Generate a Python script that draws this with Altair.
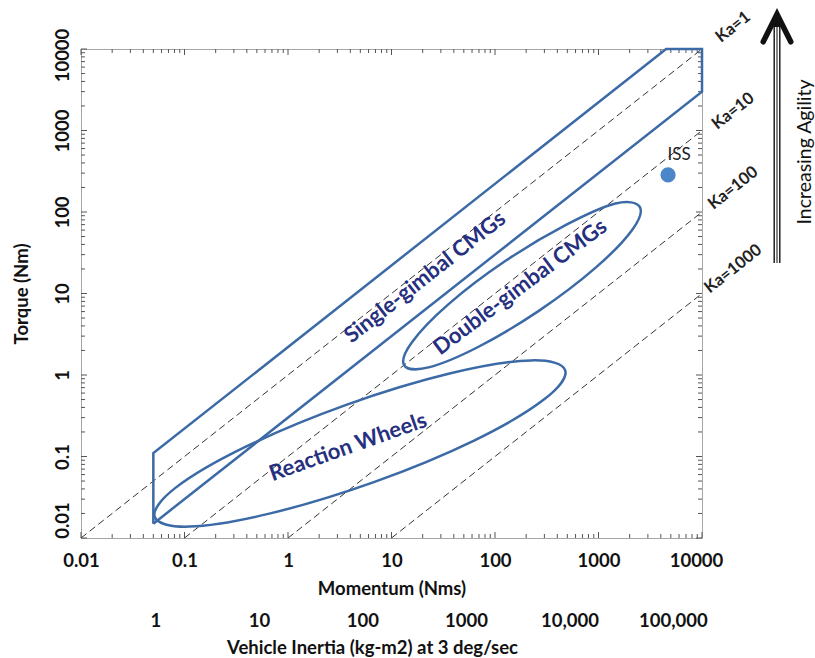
import altair as alt
import pandas as pd

# ---- data -------------------------------------------------------------
# Single-gimbal CMG band (momentum in Nms, torque in Nm), closed polygon
sg_momentum = [0.05, 0.05, 4500, 10000, 10000, 0.05]
sg_torque = [0.015, 0.11, 10000, 10000, 3000, 0.015]

# Double-gimbal CMG region outline
dg_momentum = [2500, 2122, 933, 265, 67.9, 22.8, 13.3, 15.7, 35.6, 125.6, 490, 1459]
dg_torque = [116, 60.7, 20.6, 6.12, 2.19, 1.24, 1.31, 2.51, 7.41, 25.0, 69.8, 127]

# Reaction wheel region outline
rw_momentum = [476, 301, 63.5, 6.75, 0.660, 0.111, 0.0516, 0.0817, 0.387, 3.65, 37.2, 222]
rw_torque = [1.15, 0.506, 0.158, 0.0485, 0.0199, 0.0138, 0.0181, 0.0412, 0.131, 0.430, 1.05, 1.51]

# Agility constant lines (torque = momentum / Ka)
ka_values = [1, 10, 100, 1000]
ka_label_momentum = [20000, 20000, 20000, 20000]
ka_label_torque = [18600, 1730, 197, 20]

# International Space Station
iss_momentum = [4700]
iss_torque = [285]

# Region captions
region_names = ["Single-gimbal CMGs", "Double-gimbal CMGs", "Reaction Wheels"]
region_momentum = [21, 175, 3.8]
region_torque = [15.9, 12.0, 0.131]
region_angle = [321.8, 323.1, 340.5]

# Axis ticks
decades = [0.01, 0.1, 1, 10, 100, 1000, 10000]
minor_steps = [2, 3, 4, 5, 6, 7, 8, 9]
inertia_ticks = [1, 10, 100, 1000, 10000, 100000]
rate_rad_s = 3 * 3.141592653589793 / 180  # 3 deg/sec

# ---- styling ------------------------------------------------------------
W, H = 621, 489
FONT = "Lato"
BLUE = "#3b6aa6"
NAVY = "#26307f"
FRAME = "#a6a6a6"
AXIS_FS = 18.5

xs = alt.Scale(type="log", domain=[0.01, 10000], nice=False)
ys = alt.Scale(type="log", domain=[0.01, 10000], nice=False)

xaxis = alt.Axis(
    values=decades, format="~g", grid=False, ticks=False, domain=False,
    labelFont=FONT, labelFontSize=AXIS_FS, labelFontWeight="bold", labelColor="#111",
    labelPadding=13, labelFlush=False,
    labelOffset={"condition": {"test": "datum.value > 5000", "value": -6}, "value": 0},
    title="Momentum (Nms)", titleFont=FONT, titleFontSize=AXIS_FS, titleFontWeight="bold",
    titleColor="#111", titlePadding=10,
)
yaxis = alt.Axis(
    values=decades, format="~g", grid=False, ticks=False, domain=False,
    labelFont=FONT, labelFontSize=AXIS_FS, labelFontWeight="bold", labelColor="#111",
    labelAngle=270, labelPadding=9, labelFlush=False,
    labelOffset={"condition": [
        {"test": "datum.value < 0.02", "value": -18},
        {"test": "datum.value > 5000", "value": 6},
    ], "value": 0},
    title="Torque (Nm)", titleFont=FONT, titleFontSize=AXIS_FS, titleFontWeight="bold",
    titleColor="#111", titlePadding=22,
)

X = alt.X("H:Q", scale=xs, axis=xaxis)
Y = alt.Y("T:Q", scale=ys, axis=yaxis)

# ---- frame ticks (drawn inside the plot on all four sides) ---------------
minor = [m * d for d in decades[:-1] for m in minor_steps]
tick_layers = []
for vals, ln in ((decades, 6), (minor, 4)):
    xdf = pd.DataFrame({"H": vals})
    ydf = pd.DataFrame({"T": vals})
    rule = dict(color="#555", strokeWidth=1)
    tick_layers += [
        alt.Chart(xdf).mark_rule(**rule).encode(x=X, y=alt.value(H), y2=alt.value(H - ln)),
        alt.Chart(xdf).mark_rule(**rule).encode(x=X, y=alt.value(0), y2=alt.value(ln)),
        alt.Chart(ydf).mark_rule(**rule).encode(y=Y, x=alt.value(0), x2=alt.value(ln)),
        alt.Chart(ydf).mark_rule(**rule).encode(y=Y, x=alt.value(W - ln), x2=alt.value(W)),
    ]

# ---- Ka lines -----------------------------------------------------------
ka_rows = []
for ka in ka_values:
    ka_rows.append({"ka": ka, "H": 0.01 * ka, "T": 0.01})
    ka_rows.append({"ka": ka, "H": 10000, "T": 10000 / ka})
ka_df = pd.DataFrame(ka_rows)
ka_lines = alt.Chart(ka_df).mark_line(
    color="#333", strokeWidth=1, strokeDash=[7, 4]
).encode(x=X, y=Y, detail="ka:N")

ka_lab_df = pd.DataFrame({
    "H": ka_label_momentum, "T": ka_label_torque,
    "label": [f"Ka={k}" for k in ka_values],
})
ka_labels = alt.Chart(ka_lab_df).mark_text(
    font=FONT, fontSize=16.5, fontWeight="bold", color="#222", angle=321.6
).encode(x=X, y=Y, text="label:N")

# ---- regions --------------------------------------------------------------
sg_df = pd.DataFrame({"H": sg_momentum, "T": sg_torque, "order": range(len(sg_momentum))})
sg_band = alt.Chart(sg_df).mark_line(
    color=BLUE, strokeWidth=2.5, strokeJoin="miter"
).encode(x=X, y=Y, order="order:Q")

ell_df = pd.concat([
    pd.DataFrame({"shape": "dg", "H": dg_momentum, "T": dg_torque, "order": range(len(dg_momentum))}),
    pd.DataFrame({"shape": "rw", "H": rw_momentum, "T": rw_torque, "order": range(len(rw_momentum))}),
])
ellipses = alt.Chart(ell_df).mark_line(
    color=BLUE, strokeWidth=2.5, interpolate="cardinal-closed"
).encode(x=X, y=Y, order="order:Q", detail="shape:N")

reg_df = pd.DataFrame({"H": region_momentum, "T": region_torque,
                       "name": region_names, "angle": region_angle})
region_labels = alt.Chart(reg_df).mark_text(
    font=FONT, fontSize=22, fontWeight="bold", color=NAVY
).encode(x=X, y=Y, text="name:N", angle=alt.Angle("angle:Q", scale=None))

# ---- ISS ------------------------------------------------------------------
iss_df = pd.DataFrame({"H": iss_momentum, "T": iss_torque})
iss = alt.Chart(iss_df).mark_circle(color="#4a86c8", opacity=1, size=230).encode(x=X, y=Y)
iss_label = alt.Chart(iss_df).mark_text(
    font=FONT, fontSize=17, color="#222", dx=11, dy=-20
).encode(x=X, y=Y, text=alt.value("ISS"))

# ---- agility arrow ------------------------------------------------------
one = pd.DataFrame({"k": [0]})
AX = 696
shaft_outer = alt.Chart(one).mark_rule(color="#111", strokeWidth=7).encode(
    x=alt.value(AX), y=alt.value(-30), y2=alt.value(214))
shaft_gap = alt.Chart(one).mark_rule(color="white", strokeWidth=4.2).encode(
    x=alt.value(AX), y=alt.value(-22), y2=alt.value(214))
shaft_core = alt.Chart(one).mark_rule(color="#333", strokeWidth=1.2).encode(
    x=alt.value(AX), y=alt.value(-22), y2=alt.value(214))
head = alt.Chart(one).mark_point(
    shape="M -1 1 L 0 -1 L 1 1", filled=False, size=760, strokeWidth=5.5,
    color="#111", opacity=1, strokeCap="round", strokeJoin="miter"
).encode(x=alt.value(AX), y=alt.value(-21))
agility_text = alt.Chart(one).mark_text(
    font=FONT, fontSize=19.5, color="#111", angle=270
).encode(x=alt.value(724), y=alt.value(103), text=alt.value("Increasing Agility"))

main = alt.layer(
    *tick_layers, ka_lines, sg_band, ellipses, iss, iss_label,
    region_labels, ka_labels, shaft_outer, shaft_gap, shaft_core, head, agility_text,
)

# ---- secondary scale: vehicle inertia at 3 deg/sec -------------------------
inertia_df = pd.DataFrame({"I": inertia_ticks, "T": [1] * len(inertia_ticks)})
inertia_axis = alt.Axis(
    orient="bottom", offset=60, values=inertia_ticks, domain=False, ticks=False, grid=False,
    labelExpr="datum.value >= 10000 ? format(datum.value, ',') : format(datum.value, 'd')",
    labelFont=FONT, labelFontSize=AXIS_FS, labelFontWeight="bold", labelColor="#111",
    labelPadding=13, labelFlush=False,
    title="Vehicle Inertia (kg-m2) at 3 deg/sec", titleFont=FONT, titleFontSize=AXIS_FS,
    titleFontWeight="bold", titleColor="#111", titlePadding=9, titleX=291,
)
inertia = alt.Chart(inertia_df).mark_point(opacity=0).encode(
    x=alt.X("I:Q", scale=alt.Scale(type="log", nice=False,
                                   domain=[0.01 / rate_rad_s, 10000 / rate_rad_s]),
            axis=inertia_axis),
    y=Y,
)

chart = alt.layer(main, inertia).resolve_scale(x="independent").properties(
    width=W, height=H,
    autosize=alt.AutoSizeParams(type="none"),
    padding={"left": 81, "top": 49, "right": 113, "bottom": 120},
    background="white",
).configure_view(stroke=FRAME, strokeWidth=1)

chart.save("out.html", embed_options={"renderer": "svg", "actions": False})
